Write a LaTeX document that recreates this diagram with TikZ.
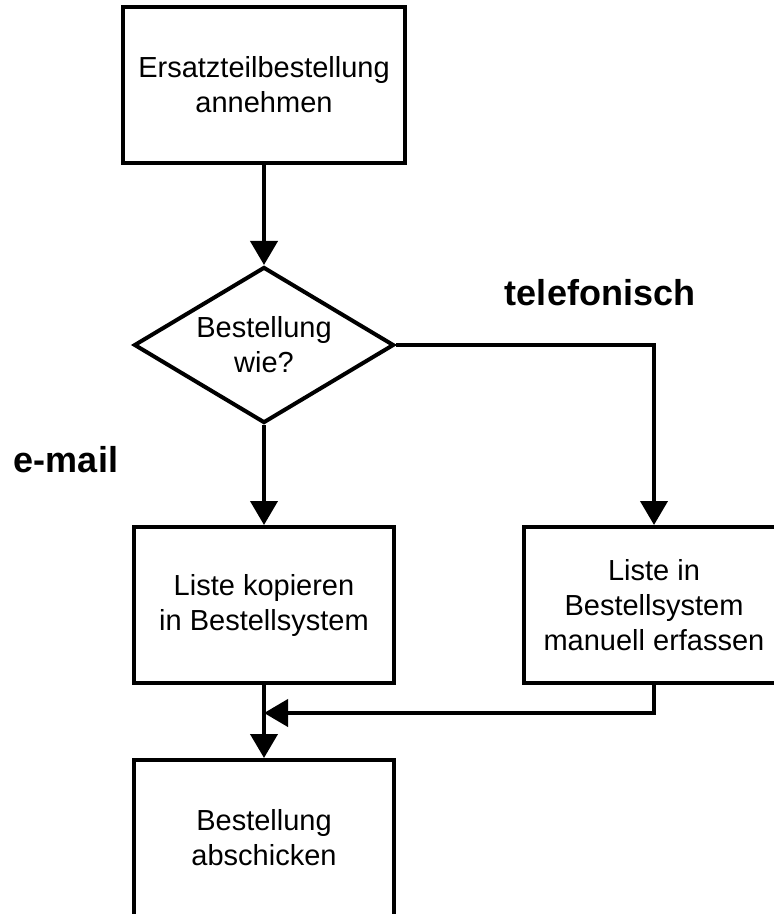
\documentclass[tikz,border=0pt]{standalone}
\usepackage{fontspec}
\setmainfont{Liberation Sans}
\usepackage{tikz}
\usetikzlibrary{shapes.geometric, arrows.meta}
\newcommand{\boxfont}{\fontsize{14.5pt}{17.5pt}\selectfont}
\newcommand{\answerfont}{\fontsize{18pt}{21pt}\selectfont\bfseries}
\tikzstyle{process} = [rectangle, minimum width=130pt, minimum height=78pt, align=center, draw=black, line width=2pt, font=\boxfont]
\tikzstyle{decision} = [diamond, aspect=1.667, inner sep=0pt, minimum width=130pt, minimum height=78pt, align=center, draw=black, line width=2pt, font=\boxfont]
\tikzstyle{answer} = [font=\answerfont]
\tikzstyle{arrow} = [line width=2pt, -{Triangle[length=12pt, width=13.5pt]}]

\begin{document}
\begin{tikzpicture}[x=0.5pt, y=-0.5pt, node distance=130pt]

\path[clip, use as bounding box] (0,0) rectangle (774,914);

\node (take) [process, minimum width=141pt] at (264,85) {Ersatzteilbestellung\\annehmen};

\node (dec) [decision, below of=take] {Bestellung\\wie?};

\node (copy) [process, below of=dec] {Liste kopieren\\in Bestellsystem};
\node (manual) [process, right of=copy, xshift=65pt] {Liste in\\Bestellsystem\\manuell erfassen};

\node (send) [process, below of=copy, yshift=13.5pt] {Bestellung\\abschicken};

\node (phone) [answer] at (600,293) {telefonisch};
\node (mail) [answer] at (66,460) {e-mail};

\coordinate (merge) at (264,713);


\draw [arrow] (take) -- (dec);
\draw [arrow] (dec) -- (copy);
\draw [arrow] (dec.east) -| (manual.north);

\draw [arrow] (manual.south) |- (merge);
\draw [arrow] (copy) -- (send);

\end{tikzpicture}
\end{document}
